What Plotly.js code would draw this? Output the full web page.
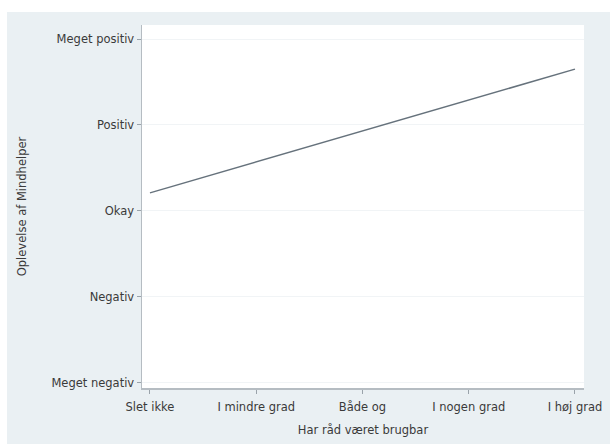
<!DOCTYPE html>
<html>
<head>
<meta charset="utf-8">
<script src="https://cdn.plot.ly/plotly-3.0.1.min.js"></script>
<style>
html,body{margin:0;padding:0;background:#ffffff;}
#chart{position:absolute;left:7px;top:12px;width:603px;height:432px;}
</style>
</head>
<body>
<div id="chart"></div>
<script>
var xCategories = ["Slet ikke", "I mindre grad", "Både og", "I nogen grad", "I høj grad"];
var xValues = [1, 2, 3, 4, 5];
var yFitted = [3.21, 3.57, 3.93, 4.29, 4.65];
var yTickValues = [1, 2, 3, 4, 5];
var yTickLabels = ["Meget negativ", "Negativ", "Okay", "Positiv", "Meget positiv"];

var trace = {
  x: xValues,
  y: yFitted,
  type: "scatter",
  mode: "lines",
  line: {color: "#66727c", width: 1.5},
  hoverinfo: "skip"
};

var layout = {
  width: 603,
  height: 432,
  paper_bgcolor: "#eaf0f3",
  plot_bgcolor: "#ffffff",
  margin: {l: 135, r: 26, t: 13, b: 56},
  showlegend: false,
  font: {family: "DejaVu Sans, sans-serif", size: 11.5, color: "#3a3a3a"},
  xaxis: {
    range: [0.925, 5.085],
    tickmode: "array",
    tickvals: xValues,
    ticktext: xCategories,
    ticks: "outside",
    ticklen: 4,
    tickcolor: "#9aa3aa",
    ticklabelstandoff: 4,
    showline: true,
    linecolor: "#b5bcc2",
    linewidth: 1.5,
    showgrid: false,
    zeroline: false,
    tickfont: {size: 11.5, color: "#3a3a3a"},
    title: {text: "Har råd været brugbar", font: {size: 11.5, color: "#3a3a3a"}, standoff: 12}
  },
  yaxis: {
    range: [0.94, 5.163],
    tickmode: "array",
    tickvals: yTickValues,
    ticktext: yTickLabels,
    ticks: "outside",
    ticklen: 4,
    tickcolor: "#9aa3aa",
    showline: true,
    linecolor: "#b5bcc2",
    linewidth: 1.5,
    showgrid: true,
    gridcolor: "#f1f4f6",
    gridwidth: 1,
    zeroline: false,
    tickfont: {size: 11.5, color: "#3a3a3a"},
    title: {text: "Oplevelse af Mindhelper", font: {size: 11.5, color: "#3a3a3a"}, standoff: 22}
  }
};

Plotly.newPlot("chart", [trace], layout, {displayModeBar: false, staticPlot: true});
</script>
</body>
</html>
